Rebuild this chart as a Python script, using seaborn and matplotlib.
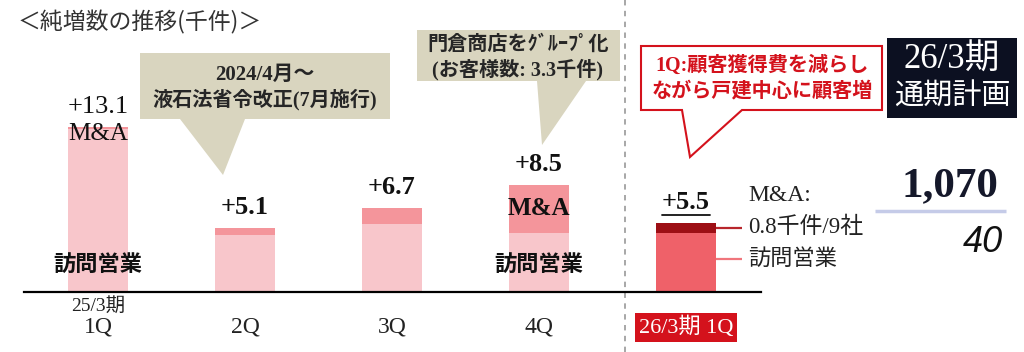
"""Net customer additions by quarter (thousand) — stacked bars with callouts."""
import matplotlib
matplotlib.use("Agg")
import matplotlib.pyplot as plt
from matplotlib.patches import Polygon, Rectangle
import seaborn as sns

# --- data (thousand customers) ---
quarters = ["1Q", "2Q", "3Q", "4Q", "26/3期 1Q"]
visit_sales = [12.9, 4.5, 5.4, 4.7, 4.7]
mna = [0.2, 0.6, 1.3, 3.8, 0.8]
mna_companies = 9
plan_total = "1,070"
plan_net = "40"

title = "＜純増数の推移(千件)＞"
note_law = ["2024/4月～", "液石法省令改正(7月施行)"]
note_group = ["門倉商店をｸﾞﾙｰﾌﾟ化", "(お客様数: 3.3千件)"]
note_1q = ["1Q:顧客獲得費を減らし", "ながら戸建中心に顧客増"]
plan_head = ["26/3期", "通期計画"]

SERIF = ["Liberation Serif", "Noto Sans CJK JP"]
SANS = ["Noto Sans CJK JP", "DejaVu Sans"]
BEIGE = "#d9d5bf"
RED = "#d4121c"

sns.set_style("white")
plt.rcParams["font.family"] = SERIF

totals = [v + m for v, m in zip(visit_sales, mna)]
top_pal = ["#f4959b"] * 4 + ["#9d0f15"]
base_pal = ["#f8c6cb"] * 4 + ["#ef6169"]

fig = plt.figure(figsize=(10.24, 3.52), dpi=100)

# decoration layer in pixel-like coords
deco = fig.add_axes([0, 0, 1, 1])
deco.set_xlim(0, 1024); deco.set_ylim(352, 0); deco.axis("off")

# data layer
ax = fig.add_axes([24 / 1024, 60 / 352, 737 / 1024, 292 / 352])
ax.patch.set_visible(False)
sns.barplot(x=quarters, y=totals, hue=quarters, palette=top_pal, order=quarters,
            hue_order=quarters, width=0.41, saturation=1, linewidth=0,
            legend=False, ax=ax)
sns.barplot(x=quarters, y=visit_sales, hue=quarters, palette=base_pal, order=quarters,
            hue_order=quarters, width=0.41, saturation=1, linewidth=0,
            legend=False, ax=ax)
ax.set_xlim(-0.503, 4.51)
ax.set_ylim(0, 292 / 12.6)
sns.despine(ax=ax, left=True)
ax.spines["bottom"].set_linewidth(1.6)
ax.spines["bottom"].set_color("black")
ax.set_yticks([]); ax.set_ylabel(""); ax.set_xlabel("")
ax.set_xticks(range(len(quarters)))
ax.set_xticklabels(quarters, fontsize=17, color="#222222")
ax.tick_params(axis="x", length=0, pad=18)
last = ax.get_xticklabels()[-1]
last.set_color("white")
last.set_fontsize(16)
last.set_bbox(dict(facecolor=RED, edgecolor="none", pad=2.5))
ax.annotate("25/3期", xy=(0, 0), xytext=(0, -10), textcoords="offset points",
            ha="center", va="center", fontsize=14, color="#222222")

# value labels
pt = 0.72
label_texts = []
for i, t in enumerate(totals):
    weight = "normal" if i == 0 else "bold"
    txt = ax.annotate(f"+{t:.1f}", xy=(i, t), xytext=(0, 20 * pt), textcoords="offset points",
                      ha="center", va="center", fontsize=19, weight=weight, color="#111111")
    label_texts.append(txt)

# segment labels
ax.annotate("M&A", xy=(0, totals[0]), xytext=(0, -7 * pt), textcoords="offset points",
            ha="center", va="center", fontsize=18, color="#111111")
ax.annotate("M&A", xy=(3, visit_sales[3] + mna[3] / 2), ha="center", va="center",
            fontsize=18, weight="bold", color="#111111")
for i in (0, 3):
    ax.annotate("訪問営業", xy=(i, 0), xytext=(0, 27 * pt), textcoords="offset points",
                ha="center", va="center", fontsize=16, weight="bold", color="#111111")

# leader lines for the current quarter
x0, x1 = 4 + 0.205, 4 + 0.205 + 26 / 147
y_mna = visit_sales[4] + mna[4] / 2
y_vis = visit_sales[4] * 0.55
ax.plot([x0, x1], [y_mna, y_mna], color="#b8262c", lw=1.6, solid_capstyle="butt")
ax.plot([x0, x1], [y_vis, y_vis], color="#f0757c", lw=1.6, solid_capstyle="butt")
ax.annotate("M&A:", xy=(x1, y_mna), xytext=(6 * pt, 32 * pt), textcoords="offset points",
            ha="left", va="center", fontsize=17, color="#222222")
ax.annotate(f"{mna[4]}千件/{mna_companies}社", xy=(x1, y_mna), xytext=(6 * pt, 0),
            textcoords="offset points", ha="left", va="center", fontsize=16.5, color="#222222")
ax.annotate("訪問営業", xy=(x1, y_vis), xytext=(6 * pt, 0), textcoords="offset points",
            ha="left", va="center", fontsize=16, color="#222222")

# divider
deco.plot([625, 625], [0, 352], color="#a0a0a0", lw=1.3, ls=(0, (3, 3)))

# title
deco.text(18, 22, title, ha="left", va="center", fontsize=16.5, color="#333333",
          family=SANS)

# callouts
deco.add_patch(Polygon([(140, 53), (390, 53), (390, 119), (245, 119), (223, 175),
                        (180, 119), (140, 119)], closed=True, facecolor=BEIGE,
                       edgecolor="none"))
deco.text(265, 75, note_law[0], ha="center", va="center", fontsize=15, weight="bold")
deco.text(265, 100, note_law[1], ha="center", va="center", fontsize=14.5, weight="bold")

deco.add_patch(Polygon([(417, 30), (620, 30), (620, 81), (586, 81), (542, 145),
                        (537, 81), (417, 81)], closed=True, facecolor=BEIGE,
                       edgecolor="none"))
deco.text(518, 45, note_group[0], ha="center", va="center", fontsize=14.5, weight="bold")
deco.text(518, 70, note_group[1], ha="center", va="center", fontsize=14.5, weight="bold")

deco.add_patch(Polygon([(641, 46), (882, 46), (882, 110), (742, 110), (690, 157),
                        (682, 110), (641, 110)], closed=True, facecolor="white",
                       edgecolor=RED, lw=1.5))
deco.text(762, 66, note_1q[0], ha="center", va="center", fontsize=14.5, weight="bold",
          color=RED)
deco.text(762, 91, note_1q[1], ha="center", va="center", fontsize=14.5, weight="bold",
          color=RED)

# full-year plan panel
deco.add_patch(Rectangle((887, 38), 130, 80, facecolor="#0c1021", edgecolor="none"))
deco.text(952, 60, plan_head[0], ha="center", va="center", fontsize=25, color="white")
deco.text(952, 97, plan_head[1], ha="center", va="center", fontsize=21, color="white",
          family=SANS)
deco.text(998, 186, plan_total, ha="right", va="center", fontsize=31, weight="bold",
          color="#15182a")
deco.plot([875, 1006], [211, 211], color="#c5cbe8", lw=2.5, solid_capstyle="butt")
deco.text(1003, 243, plan_net, ha="right", va="center", fontsize=26, style="italic",
          color="#111111", family=["Liberation Sans", "DejaVu Sans"])

# underline the current-quarter total
fig.canvas.draw()
bb = label_texts[-1].get_window_extent()
deco.plot([bb.x0, bb.x1], [352 - bb.y0 + 1, 352 - bb.y0 + 1], color="#111111", lw=1.3)

fig.savefig("out.png", dpi=100)
print("Saved → out.png")
